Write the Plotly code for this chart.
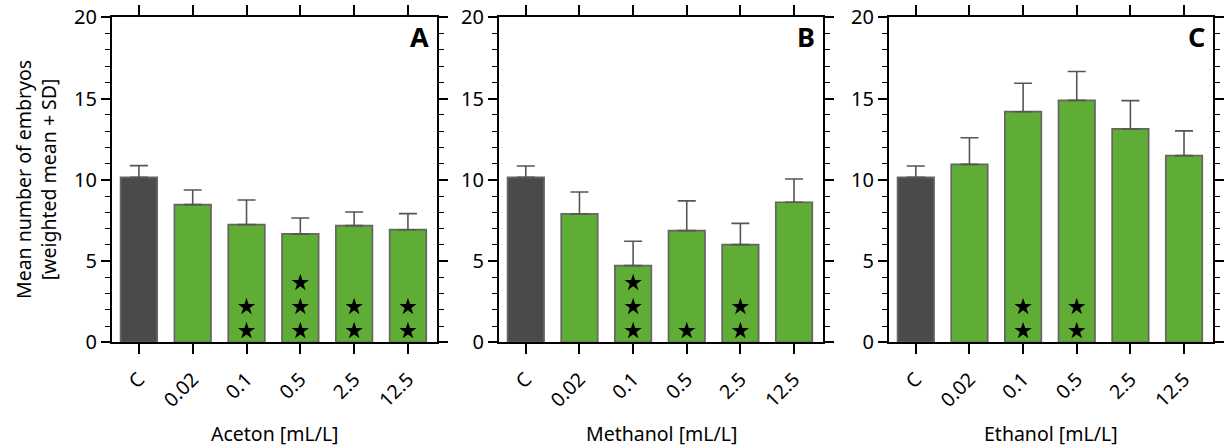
import plotly.graph_objects as go

# Concentrations (C = solvent-free control)
categories = ["C", "0.02", "0.1", "0.5", "2.5", "12.5"]

# Weighted mean number of embryos and SD per solvent
aceton_mean = [10.15, 8.47, 7.24, 6.67, 7.18, 6.93]
aceton_sd = [0.72, 0.90, 1.52, 0.98, 0.84, 0.99]
aceton_stars = [0, 0, 2, 3, 2, 2]

methanol_mean = [10.15, 7.90, 4.72, 6.87, 6.01, 8.62]
methanol_sd = [0.70, 1.35, 1.50, 1.83, 1.31, 1.43]
methanol_stars = [0, 0, 3, 1, 2, 0]

ethanol_mean = [10.15, 10.95, 14.19, 14.89, 13.13, 11.49]
ethanol_sd = [0.70, 1.64, 1.75, 1.77, 1.74, 1.52]
ethanol_stars = [0, 0, 2, 2, 0, 0]

panel_titles = ["Aceton [mL/L]", "Methanol [mL/L]", "Ethanol [mL/L]"]
panel_letters = ["A", "B", "C"]

GREEN = "#5FAD35"
DARK = "#4A4A4A"
FONT = "Noto Sans"

W, H = 1224, 448
x_px = [(112, 437), (499, 823), (889, 1213)]
y_top_px, y_bot_px = 17.3, 342.3
y_domain = [1 - y_bot_px / H, 1 - y_top_px / H]

panels = [
    (aceton_mean, aceton_sd, aceton_stars),
    (methanol_mean, methanol_sd, methanol_stars),
    (ethanol_mean, ethanol_sd, ethanol_stars),
]

fig = go.Figure()
xpos = list(range(len(categories)))

for i, (mean, sd, stars) in enumerate(panels):
    sfx = "" if i == 0 else str(i + 1)
    colors = [DARK] + [GREEN] * (len(categories) - 1)
    fig.add_trace(go.Bar(
        x=xpos, y=mean, width=0.68,
        marker=dict(color=colors, line=dict(color="#656565", width=1.7)),
        error_y=dict(type="data", array=sd, arrayminus=[0] * len(sd), symmetric=False,
                     color="#555555", thickness=1.6, width=9),
        xaxis="x" + sfx, yaxis="y" + sfx, showlegend=False, hoverinfo="skip",
    ))
    # significance stars stacked from the bottom of each bar
    sx, sy = [], []
    for k, n in enumerate(stars):
        for j in range(n):
            sx.append(k)
            sy.append(0.7 + 1.48 * j)
    if sx:
        fig.add_trace(go.Scatter(
            x=sx, y=sy, mode="markers",
            marker=dict(symbol="star", size=13, color="black", line=dict(width=0)),
            xaxis="x" + sfx, yaxis="y" + sfx, showlegend=False, hoverinfo="skip",
        ))

    x0, x1 = x_px[i]
    fig.layout["xaxis" + sfx] = dict(
        domain=[x0 / W, x1 / W], range=[-0.5, 5.54], anchor="y" + sfx,
        tickmode="array", tickvals=xpos, ticktext=categories, tickangle=-45,
        ticks="outside", ticklen=10, tickwidth=1.5, tickcolor="black",
        ticklabelstandoff=6,
        showline=True, linecolor="black", linewidth=2, mirror="ticks",
        showgrid=False, zeroline=False, automargin=False,
        tickfont=dict(family=FONT, size=19.5, color="black"),
    )
    fig.layout["yaxis" + sfx] = dict(
        domain=y_domain, range=[0, 20], anchor="x" + sfx,
        tickmode="linear", tick0=0, dtick=5,
        ticks="outside", ticklen=9, tickwidth=1.5, tickcolor="black",
        minor=dict(dtick=1, ticks="outside", ticklen=5, tickwidth=1.2, tickcolor="black"),
        showline=True, linecolor="black", linewidth=2, mirror="ticks",
        showgrid=False, zeroline=False, automargin=False,
        tickfont=dict(family=FONT, size=20, color="black"),
    )
    # x-axis title
    fig.add_annotation(
        x=(x0 + x1) / 2 / W, y=1 - 433 / H, xref="paper", yref="paper",
        text=panel_titles[i], showarrow=False,
        font=dict(family=FONT, size=19.5, color="black"),
        xanchor="center", yanchor="middle",
    )
    # panel letter
    fig.add_annotation(
        x=(x1 - 6) / W, y=1 - 37 / H, xref="paper", yref="paper",
        text="<b>" + panel_letters[i] + "</b>", showarrow=False,
        font=dict(family=FONT, size=27, color="black"),
        xanchor="right", yanchor="middle",
    )

fig.add_annotation(
    x=36 / W, y=1 - 180 / H, xref="paper", yref="paper",
    text="Mean number of embryos<br>[weighted mean + SD]", showarrow=False,
    textangle=-90, font=dict(family=FONT, size=19.5, color="black"),
    xanchor="center", yanchor="middle",
)

fig.update_layout(
    width=W, height=H, margin=dict(l=0, r=0, t=0, b=0),
    paper_bgcolor="white", plot_bgcolor="white",
    bargap=0.3,
)

fig.write_html("out.html")
